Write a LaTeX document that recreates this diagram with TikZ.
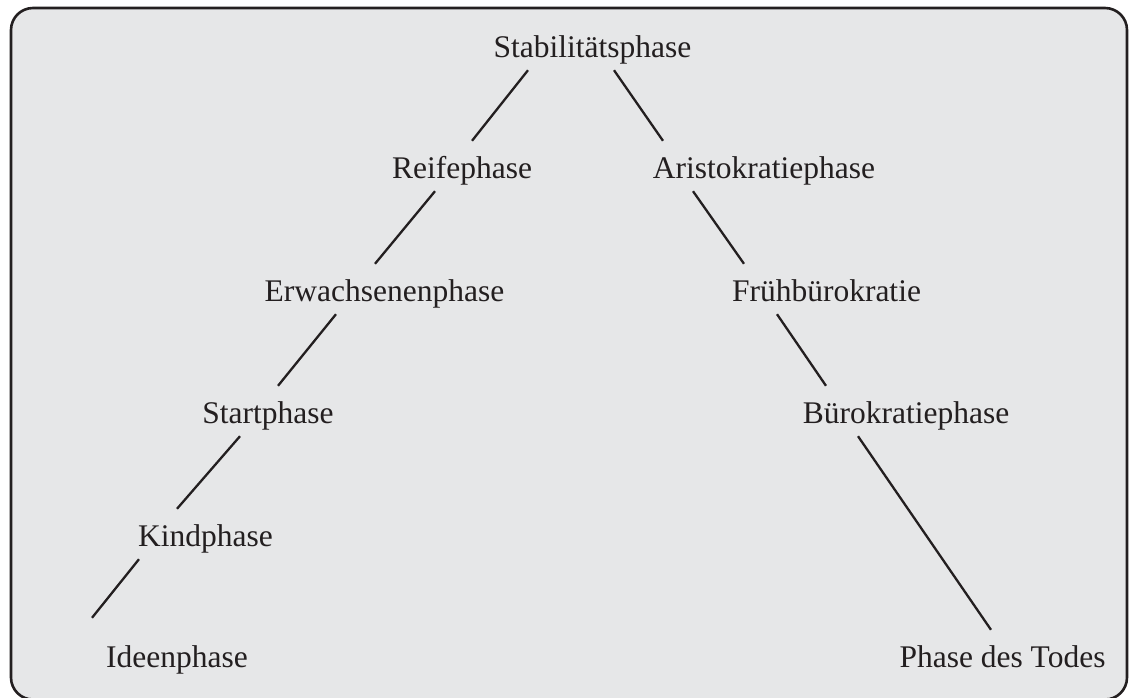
\documentclass[tikz,border=0pt]{standalone}
\usepackage{fontspec}
\setmainfont{Liberation Serif}
\usetikzlibrary{calc}
\definecolor{ink}{RGB}{35,31,32}
\definecolor{panel}{RGB}{230,231,232}
\tikzset{
  phase/.style={anchor=base,inner sep=0pt,text height=37pt,text depth=13pt,
    text=ink,font=\fontsize{31.5}{38}\selectfont},
  link/.style={draw=ink,line width=2.3pt},
  frame/.style={draw=ink,fill=panel,line width=2.6pt,rounded corners=22pt}
}

\begin{document}
\begin{tikzpicture}[x=1pt,y=-1pt]
  \useasboundingbox (0,0) rectangle (1130,697);
  \clip (0,0) rectangle (1130,697);
  \draw[frame] (11,8) rectangle (1127,699.5);
  \foreach \n/\x/\y/\t in
  { stab/592.5/57/{Stabilitätsphase},
    reife/462/178/{Reifephase},
    aristo/764/178/{Aristokratiephase},
    erw/384.5/301/{Erwachsenenphase},
    frueh/826.5/301/{Frühbürokratie},
    start/268/423/{Startphase},
    buero/906/423/{Bürokratiephase},
    kind/205.5/546/{Kindphase},
    ideen/177/667/{Ideenphase},
    tod/1002.5/667/{Phase des Todes}
  }
  \node[phase] (\n) at (\x,\y) {\t};
  \foreach \a/\da/\b/\db/\dy in
  { stab/-64.5/reife/10/0,
    stab/21.5/aristo/-101/0,
    reife/-27/erw/-9.5/0,
    aristo/-71/frueh/-82.5/0,
    erw/-48.5/start/10/0,
    frueh/-49.5/buero/-80/0,
    start/-28/kind/-28.5/0,
    kind/-66.5/ideen/-85/-12,
    buero/-48/tod/-11.5/0
  }
  \draw[link] ($(\a.south)+(\da,0)$) -- ($(\b.north)+(\db,\dy)$);
\end{tikzpicture}
\end{document}
